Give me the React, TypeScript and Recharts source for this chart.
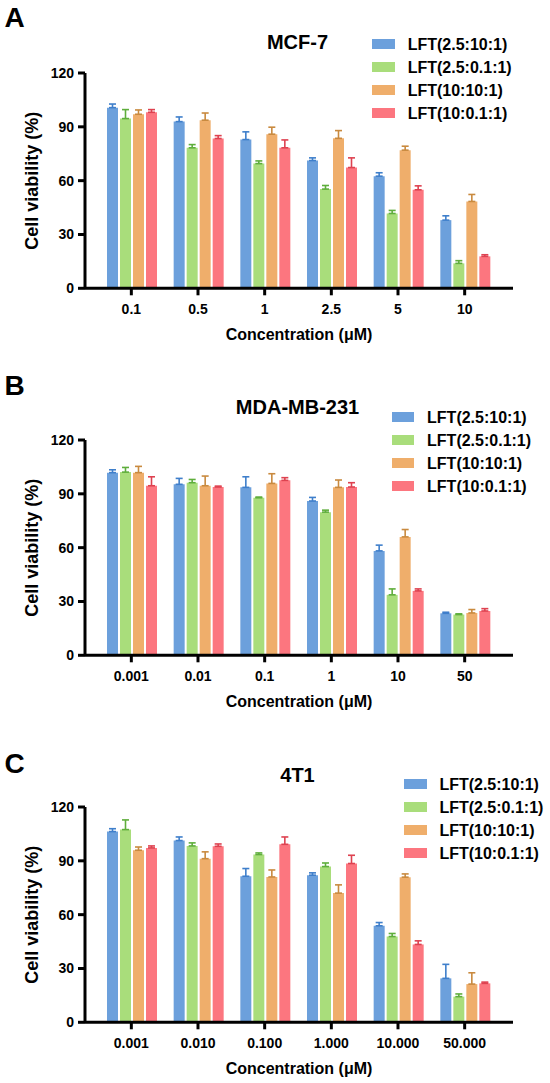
import React from 'react';
import { BarChart, Bar, XAxis, YAxis, Legend, ErrorBar } from 'recharts';

const FONT = '"Liberation Sans", Arial, Helvetica, sans-serif';

const seriesNames = ['LFT(2.5:10:1)', 'LFT(2.5:0.1:1)', 'LFT(10:10:1)', 'LFT(10:0.1:1)'];
const seriesColors = ['#6CA0DC', '#A9DD7B', '#EFAE6B', '#FC767F'];
const errorColors = ['#3F7FCB', '#5FAE3C', '#C98A3F', '#DE4250'];
const yTicks = [0, 30, 60, 90, 120];

// Panel A: MCF-7
const mcf7Conc = ['0.1', '0.5', '1', '2.5', '5', '10'];
const mcf7S1 = [100.7, 92.9, 82.9, 71.2, 62.5, 38.0];
const mcf7S1Err = [2.0, 2.6, 4.3, 1.5, 1.9, 2.4];
const mcf7S2 = [94.6, 78.3, 69.5, 55.3, 41.7, 13.9];
const mcf7S2Err = [5.0, 1.8, 1.5, 2.0, 1.7, 1.5];
const mcf7S3 = [97.0, 93.7, 85.9, 83.6, 77.0, 48.4];
const mcf7S3Err = [2.4, 4.0, 3.9, 4.3, 2.2, 3.9];
const mcf7S4 = [98.1, 83.5, 78.3, 67.3, 54.9, 17.8];
const mcf7S4Err = [1.5, 1.6, 4.4, 5.4, 2.2, 0.9];

// Panel B: MDA-MB-231
const mdaConc = ['0.001', '0.01', '0.1', '1', '10', '50'];
const mdaS1 = [101.8, 95.3, 93.6, 86.0, 58.2, 23.4];
const mdaS1Err = [1.6, 3.3, 5.9, 2.0, 3.2, 0.6];
const mdaS2 = [102.1, 96.2, 87.8, 79.8, 33.7, 22.7];
const mdaS2Err = [2.6, 1.8, 0.4, 1.1, 3.3, 0.4];
const mdaS3 = [101.8, 94.5, 95.8, 93.6, 66.0, 23.6];
const mdaS3Err = [3.5, 5.4, 5.4, 4.1, 4.1, 1.9];
const mdaS4 = [94.5, 93.8, 97.5, 93.8, 35.9, 24.7];
const mdaS4Err = [5.0, 0.5, 1.5, 2.4, 1.1, 1.3];

// Panel C: 4T1
const t41Conc = ['0.001', '0.010', '0.100', '1.000', '10.000', '50.000'];
const t41S1 = [106.3, 101.3, 81.4, 82.0, 53.8, 24.5];
const t41S1Err = [1.6, 2.0, 4.3, 1.3, 1.8, 7.8];
const t41S2 = [107.4, 98.3, 93.5, 86.8, 47.8, 14.3];
const t41S2Err = [5.4, 1.7, 0.9, 2.0, 1.7, 1.5];
const t41S3 = [95.9, 91.2, 81.0, 72.0, 80.9, 21.3];
const t41S3Err = [1.8, 3.8, 3.9, 4.6, 1.8, 6.3];
const t41S4 = [97.2, 98.1, 99.2, 88.5, 43.4, 21.7];
const t41S4Err = [1.1, 1.3, 4.1, 4.6, 2.0, 0.7];

function buildRows(conc: string[], vals: number[][], errs: number[][]) {
  return conc.map((c, i) => {
    const row: any = { conc: c };
    vals.forEach((v, k) => {
      row['s' + k] = v[i];
      row['e' + k] = [0, errs[k][i]];
    });
    return row;
  });
}

const panels = [
  {
    letter: 'A', title: 'MCF-7', top: 0, letterTop: 1.6, titleTop: 30.2, legendLeft: 372.3, legendTop: 32.5,
    data: buildRows(mcf7Conc, [mcf7S1, mcf7S2, mcf7S3, mcf7S4], [mcf7S1Err, mcf7S2Err, mcf7S3Err, mcf7S4Err]),
  },
  {
    letter: 'B', title: 'MDA-MB-231', top: 367, letterTop: 2.6, titleTop: 28.2, legendLeft: 391.7, legendTop: 38.5,
    data: buildRows(mdaConc, [mdaS1, mdaS2, mdaS3, mdaS4], [mdaS1Err, mdaS2Err, mdaS3Err, mdaS4Err]),
  },
  {
    letter: 'C', title: '4T1', top: 734, letterTop: 14.1, titleTop: 29.2, legendLeft: 404, legendTop: 38.5,
    data: buildRows(t41Conc, [t41S1, t41S2, t41S3, t41S4], [t41S1Err, t41S2Err, t41S3Err, t41S4Err]),
  },
];

const LegendContent = (props: any) => {
  const payload = [...(props.payload || [])].sort(
    (a: any, b: any) => seriesNames.indexOf(a.value) - seriesNames.indexOf(b.value)
  );
  return (
    <div>
      {payload.map((entry: any) => (
        <div key={entry.value} style={{ display: 'flex', alignItems: 'center', height: 23 }}>
          <span style={{ display: 'inline-block', width: 22.7, height: 9.5, background: entry.color, marginRight: 12.7 }} />
          <span style={{ fontFamily: FONT, fontSize: 16, fontWeight: 700, color: '#000', whiteSpace: 'nowrap', lineHeight: '23px' }}>
            {entry.value}
          </span>
        </div>
      ))}
    </div>
  );
};

function Panel(p: any) {
  const axisStroke = { stroke: '#000', strokeWidth: 3 };
  const tickStyle = { fill: '#000', fontSize: 14, fontWeight: 700, fontFamily: FONT };
  return (
    <div style={{ position: 'absolute', left: 0, top: p.top, width: 550, height: 349 }}>
      <BarChart
        width={550}
        height={349}
        data={p.data}
        margin={{ top: 73, right: 37, left: 0, bottom: 0.7 }}
        barCategoryGap={9}
        barGap={2}
      >
        <XAxis
          dataKey="conc"
          padding={{ left: 13, right: 15 }}
          tickSize={7}
          tickMargin={9}
          height={60}
          interval={0}
          axisLine={axisStroke}
          tickLine={axisStroke}
          tick={tickStyle}
          label={{
            value: 'Concentration (μM)',
            position: 'insideBottom',
            offset: 8.6,
            style: { fontSize: 16, fontWeight: 700, fill: '#000', fontFamily: FONT },
          }}
        />
        <YAxis
          domain={[0, 120]}
          ticks={yTicks}
          width={85}
          tickSize={7}
          tickMargin={4}
          interval={0}
          axisLine={axisStroke}
          tickLine={axisStroke}
          tick={tickStyle}
          label={{
            value: 'Cell viability (%)',
            angle: -90,
            position: 'insideLeft',
            offset: 32,
            style: { textAnchor: 'middle', fontSize: 18, fontWeight: 700, fill: '#000', fontFamily: FONT },
          }}
        />
        <Legend
          layout="vertical"
          align="center"
          verticalAlign="middle"
          content={<LegendContent />}
          wrapperStyle={{ left: p.legendLeft, top: p.legendTop, width: 'auto', height: 'auto' }}
        />
        {seriesNames.map((name, k) => (
          <Bar key={name} dataKey={'s' + k} name={name} fill={seriesColors[k]} isAnimationActive={false}>
            <ErrorBar dataKey={'e' + k} width={3.5} stroke={errorColors[k]} strokeWidth={1.6} direction="y" />
          </Bar>
        ))}
      </BarChart>
      <div
        style={{
          position: 'absolute', left: 4.5, top: p.letterTop, fontFamily: FONT, fontSize: 28, fontWeight: 700,
          lineHeight: '32px', color: '#000',
        }}
      >
        {p.letter}
      </div>
      <div
        style={{
          position: 'absolute', left: 0, width: 595, top: p.titleTop, textAlign: 'center', fontFamily: FONT,
          fontSize: 20, fontWeight: 700, lineHeight: '24px', color: '#000',
        }}
      >
        {p.title}
      </div>
    </div>
  );
}

export default function App() {
  return (
    <div style={{ position: 'absolute', left: 0, top: 0, width: 550, height: 1083, background: '#fff', overflow: 'hidden' }}>
      {panels.map((p) => (
        <Panel key={p.letter} {...p} />
      ))}
    </div>
  );
}
